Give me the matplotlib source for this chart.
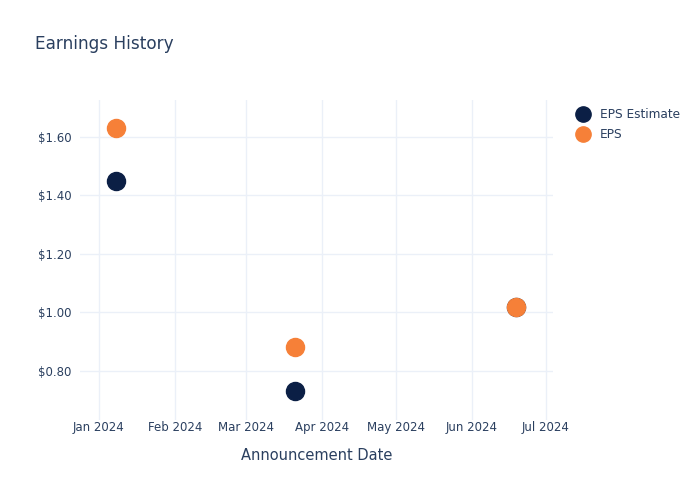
import matplotlib.pyplot as plt
import matplotlib.dates as mdates
from matplotlib.ticker import FuncFormatter
from matplotlib.lines import Line2D
import numpy as np

# Data
dates = np.array(["2024-01-08", "2024-03-21", "2024-06-19"], dtype="datetime64[D]")
eps_estimate = [1.45, 0.73, 1.02]
eps_actual = [1.63, 0.88, 1.02]

navy = "#0b1f45"
orange = "#f68038"
text_color = "#2a3f5f"
grid_color = "#ebf0f8"

fig = plt.figure(figsize=(7, 5), dpi=100)
ax = fig.add_axes([0.114, 0.16, 0.676, 0.64])

ax.plot(dates, eps_estimate, "o", color=navy, markersize=13, zorder=3)
ax.plot(dates, eps_actual, "o", color=orange, markersize=13, zorder=4)

ax.set_xlim(np.datetime64("2023-12-24T06"), np.datetime64("2024-07-04T00"))
ax.set_ylim(0.632, 1.726)

ax.xaxis.set_major_locator(mdates.MonthLocator())
ax.xaxis.set_major_formatter(mdates.DateFormatter("%b %Y"))
ax.set_yticks([0.8, 1.0, 1.2, 1.4, 1.6])
ax.yaxis.set_major_formatter(FuncFormatter(lambda v, p: f"${v:.2f}"))

for spine in ax.spines.values():
    spine.set_visible(False)
ax.tick_params(length=0, labelcolor=text_color, labelsize=8.5)
ax.tick_params(axis="x", pad=1)
ax.tick_params(axis="y", pad=6)
ax.grid(True, color=grid_color, linewidth=1)
ax.set_axisbelow(True)

ax.set_xlabel("Announcement Date", color=text_color, fontsize=10.5, labelpad=10)
fig.text(0.05, 0.912, "Earnings History", color=text_color, fontsize=12.2, va="center")

handles = [
    Line2D([], [], marker="o", linestyle="", color=navy, markersize=11),
    Line2D([], [], marker="o", linestyle="", color=orange, markersize=11),
]
fig.legend(handles, ["EPS Estimate", "EPS"], loc="upper left",
           bbox_to_anchor=(0.8, 0.805), frameon=False, handletextpad=0.4,
           labelspacing=0.55, fontsize=8.7, labelcolor=text_color)

fig.savefig("out.png", dpi=100)
